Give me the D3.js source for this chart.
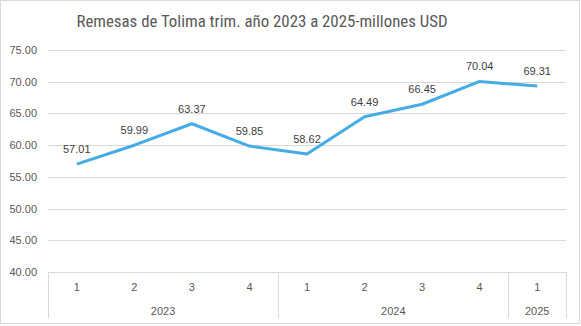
<!DOCTYPE html>
<html><head><meta charset="utf-8">
<script src="https://cdn.jsdelivr.net/npm/d3@7"></script>
<style>body{margin:0;background:#fff}svg{display:block}</style>
</head><body>
<script>
const quarters = ["1","2","3","4","1","2","3","4","1"];
const years = ["2023","2023","2023","2023","2024","2024","2024","2024","2025"];
const values = [57.01, 59.99, 63.37, 59.85, 58.62, 64.49, 66.45, 70.04, 69.31];
const yTicks = [40, 45, 50, 55, 60, 65, 70, 75];
const title = "Remesas de Tolima trim. año 2023 a 2025-millones USD";

const W = 581, H = 326;
const m = {left: 48, right: 15, top: 50, bottom: 54};
const svg = d3.select("body").append("svg").attr("width", W).attr("height", H);
svg.append("rect").attr("x",0.5).attr("y",0.5).attr("width",W-2).attr("height",H-3)
  .attr("fill","#fff").attr("stroke","#d9d9d9");

const idx = values.map((d,i)=>i);
const x = d3.scaleBand().domain(idx).range([m.left, W - m.right]);
const y = d3.scaleLinear().domain([40, 75]).range([H - m.bottom, m.top]);

svg.append("text").attr("x", 262).attr("y", 27).attr("text-anchor","middle")
  .attr("font-family","'Liberation Sans Narrow','Roboto Condensed','Liberation Sans',sans-serif")
  .attr("font-size", 16).attr("fill","#595959").attr("textLength", 371).attr("lengthAdjust","spacingAndGlyphs")
  .text(title);

// gridlines
svg.append("g").selectAll("line").data(yTicks).join("line")
  .attr("x1", m.left).attr("x2", W - m.right)
  .attr("y1", d=>Math.round(y(d))+0.5).attr("y2", d=>Math.round(y(d))+0.5)
  .attr("stroke","#d9d9d9").attr("stroke-width",1);

// y labels
const yAxis = svg.append("g").attr("transform",`translate(37,0)`)
  .call(d3.axisLeft(y).tickValues(yTicks).tickSize(0).tickFormat(d3.format(".2f")));
yAxis.select(".domain").remove();
yAxis.selectAll("text").attr("x",0).attr("font-family","'Liberation Sans',Arial,sans-serif")
  .attr("font-size",11).attr("fill","#595959");

// x axis: quarter labels
const xAxis = svg.append("g").attr("transform",`translate(0,${H - m.bottom})`)
  .call(d3.axisBottom(x).tickSize(0).tickFormat(i=>quarters[i]));
xAxis.select(".domain").remove();
xAxis.selectAll("text").attr("y",11).attr("font-family","'Liberation Sans',Arial,sans-serif")
  .attr("font-size",11).attr("fill","#595959");

// year groups
const groups = d3.groups(idx, i=>years[i]);
const sepY1 = H - m.bottom, sepY2 = 318;
const seps = [m.left];
groups.forEach(([yr, arr]) => {
  const x0 = x(arr[0]), x1 = x(arr[arr.length-1]) + x.bandwidth();
  seps.push(x1);
  svg.append("text").attr("x",(x0+x1)/2).attr("y",315).attr("text-anchor","middle")
    .attr("font-family","'Liberation Sans',Arial,sans-serif").attr("font-size",11)
    .attr("fill","#595959").text(yr);
});
svg.append("g").selectAll("line").data(seps).join("line")
  .attr("x1",d=>Math.round(d)+0.5).attr("x2",d=>Math.round(d)+0.5)
  .attr("y1",sepY1).attr("y2",sepY2).attr("stroke","#d9d9d9");

// line
const cx = i => x(i) + x.bandwidth()/2;
svg.append("path").datum(idx)
  .attr("d", d3.line().x(cx).y(i=>y(values[i])))
  .attr("fill","none").attr("stroke","#45ADE3").attr("stroke-width",3)
  .attr("stroke-linejoin","round");

// data labels
svg.append("g").selectAll("text").data(idx).join("text")
  .attr("x",cx).attr("y",i=>y(values[i]) - 11).attr("text-anchor","middle")
  .attr("font-family","'Liberation Sans',Arial,sans-serif").attr("font-size",11)
  .attr("fill","#404040").text(i=>values[i].toFixed(2));
</script>
</body></html>
